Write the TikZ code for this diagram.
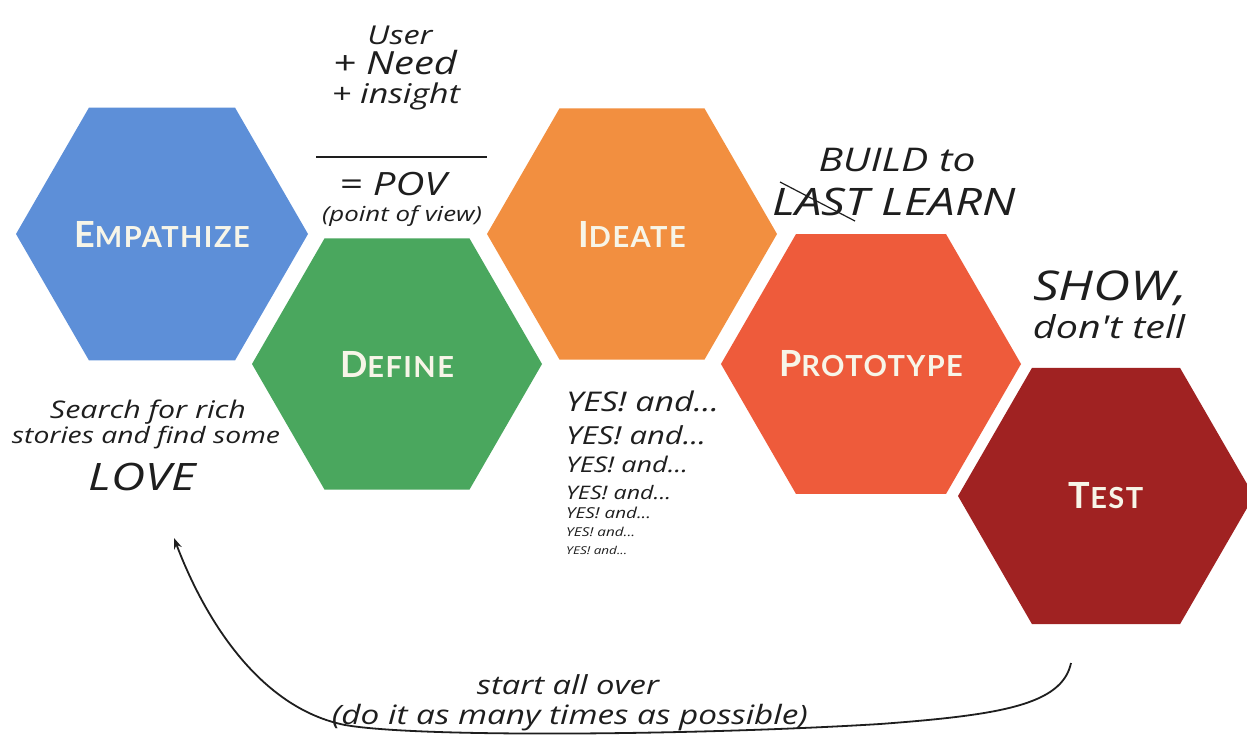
\documentclass[tikz,border=0pt]{standalone}
\usepackage{fontspec}
\usetikzlibrary{shapes.geometric,arrows.meta}
\newfontfamily\labfont{Lato}[LetterSpace=5]
\newfontfamily\hand{Open Sans}[FakeStretch=1.25]
\definecolor{cEmp}{HTML}{5D8FD8}
\definecolor{cDef}{HTML}{4AA75E}
\definecolor{cIde}{HTML}{F28F40}
\definecolor{cPro}{HTML}{EE5B3B}
\definecolor{cTes}{HTML}{A02222}
\definecolor{cLab}{HTML}{F7F5E8}
\definecolor{cInk}{HTML}{1E1E1E}
\newcommand\hexlbl[2]{{\labfont\bfseries{\fontsize{36}{36}\selectfont #1}{\fontsize{29}{29}\selectfont #2}}}
\newcommand\hw[2]{\resizebox{#1pt}{!}{\hand\itshape #2}}
\tikzset{
  hex/.style={regular polygon, regular polygon sides=6, draw=none, inner sep=0pt, outer sep=0pt, text=cLab},
  hand/.style={inner sep=0pt, text=cInk},
  loop/.style={draw=cInk, line width=1.8pt, -{Stealth[length=11pt,width=8pt]}}
}
\begin{document}
\begin{tikzpicture}[x=1pt,y=-1pt]
\useasboundingbox (0,0) rectangle (1247,734);
\fill[white] (0,0) rectangle (1247,734);
\begin{scope}
\clip (0,0) rectangle (1247,734);
\node[hex, fill=cEmp, minimum size=292pt] (emp) at (162,234) {\hexlbl{E}{MPATHIZE}};
\node[hex, fill=cDef, minimum size=290pt] (def) at (397,364) {\hexlbl{D}{EFINE}};
\node[hex, fill=cIde, minimum size=290pt] (ide) at (632,234) {\hexlbl{I}{DEATE}};
\node[hex, fill=cPro, minimum size=292pt] (pro) at (871,364) {\hexlbl{P}{ROTOTYPE}};
\node[hex, fill=cTes, minimum size=296pt] (tes) at (1106,496) {\hexlbl{T}{EST}};
\end{scope}
% POV formula
\node[hand] (user) at (400,35) {\hw{65}{User}};
\node[hand] (need) at (395,63) {\hw{124}{+ Need}};
\node[hand] (insight) at (396,96) {\hw{128}{+ insight}};
\coordinate (barL) at (316,157);
\coordinate (barR) at (487,157);
\draw[cInk, line width=1.2pt] (barL) -- (barR);
\node[hand] (pov) at (393,184) {\hw{107}{= POV}};
\node[hand] (pview) at (402,216) {\hw{160}{(point of view)}};
% empathize notes
\node[hand] (search) at (148,412) {\hw{196}{Search for rich}};
\node[hand] (stories) at (146,438) {\hw{268}{stories and find some}};
\node[hand] (love) at (142,477) {\hw{107}{LOVE}};
% prototype notes
\node[hand] (build) at (897,160) {\hw{157}{BUILD to}};
\node[hand] (learn) at (894,202) {\hw{243}{LAST LEARN}};
\draw[cInk, line width=1.2pt] (780,182) -- (855,221);
% test notes
\node[hand] (show) at (1110,288) {\hw{154}{SHOW,}};
\node[hand] (dont) at (1109,327) {\hw{152}{don't tell}};
% ideate notes
\node[hand, anchor=west] (y1) at (566,401) {\hw{153}{YES! and...}};
\node[hand, anchor=west] (y2) at (566,435) {\hw{140}{YES! and...}};
\node[hand, anchor=west] (y3) at (566,464) {\hw{122}{YES! and...}};
\node[hand, anchor=west] (y4) at (566,493) {\hw{105}{YES! and...}};
\node[hand, anchor=west] (y5) at (566,513) {\hw{85}{YES! and...}};
\node[hand, anchor=west] (y6) at (566,532) {\hw{69}{YES! and...}};
\node[hand, anchor=west] (y7) at (566,550) {\hw{61}{YES! and...}};
% loop back
\node[hand] (start) at (568,685) {\hw{182}{start all over}};
\node[hand] (possible) at (570,718) {\hw{476}{(do it as many times as possible)}};
\coordinate (loopS) at (1071,663);
\coordinate (loopE) at (174,538);
\draw[loop] (loopS) .. controls (1062,705) and (1000,715) .. (880,724)
  .. controls (700,735) and (420,738) .. (345,725)
  .. controls (260,708) and (205,620) .. (loopE);
\end{tikzpicture}
\end{document}
